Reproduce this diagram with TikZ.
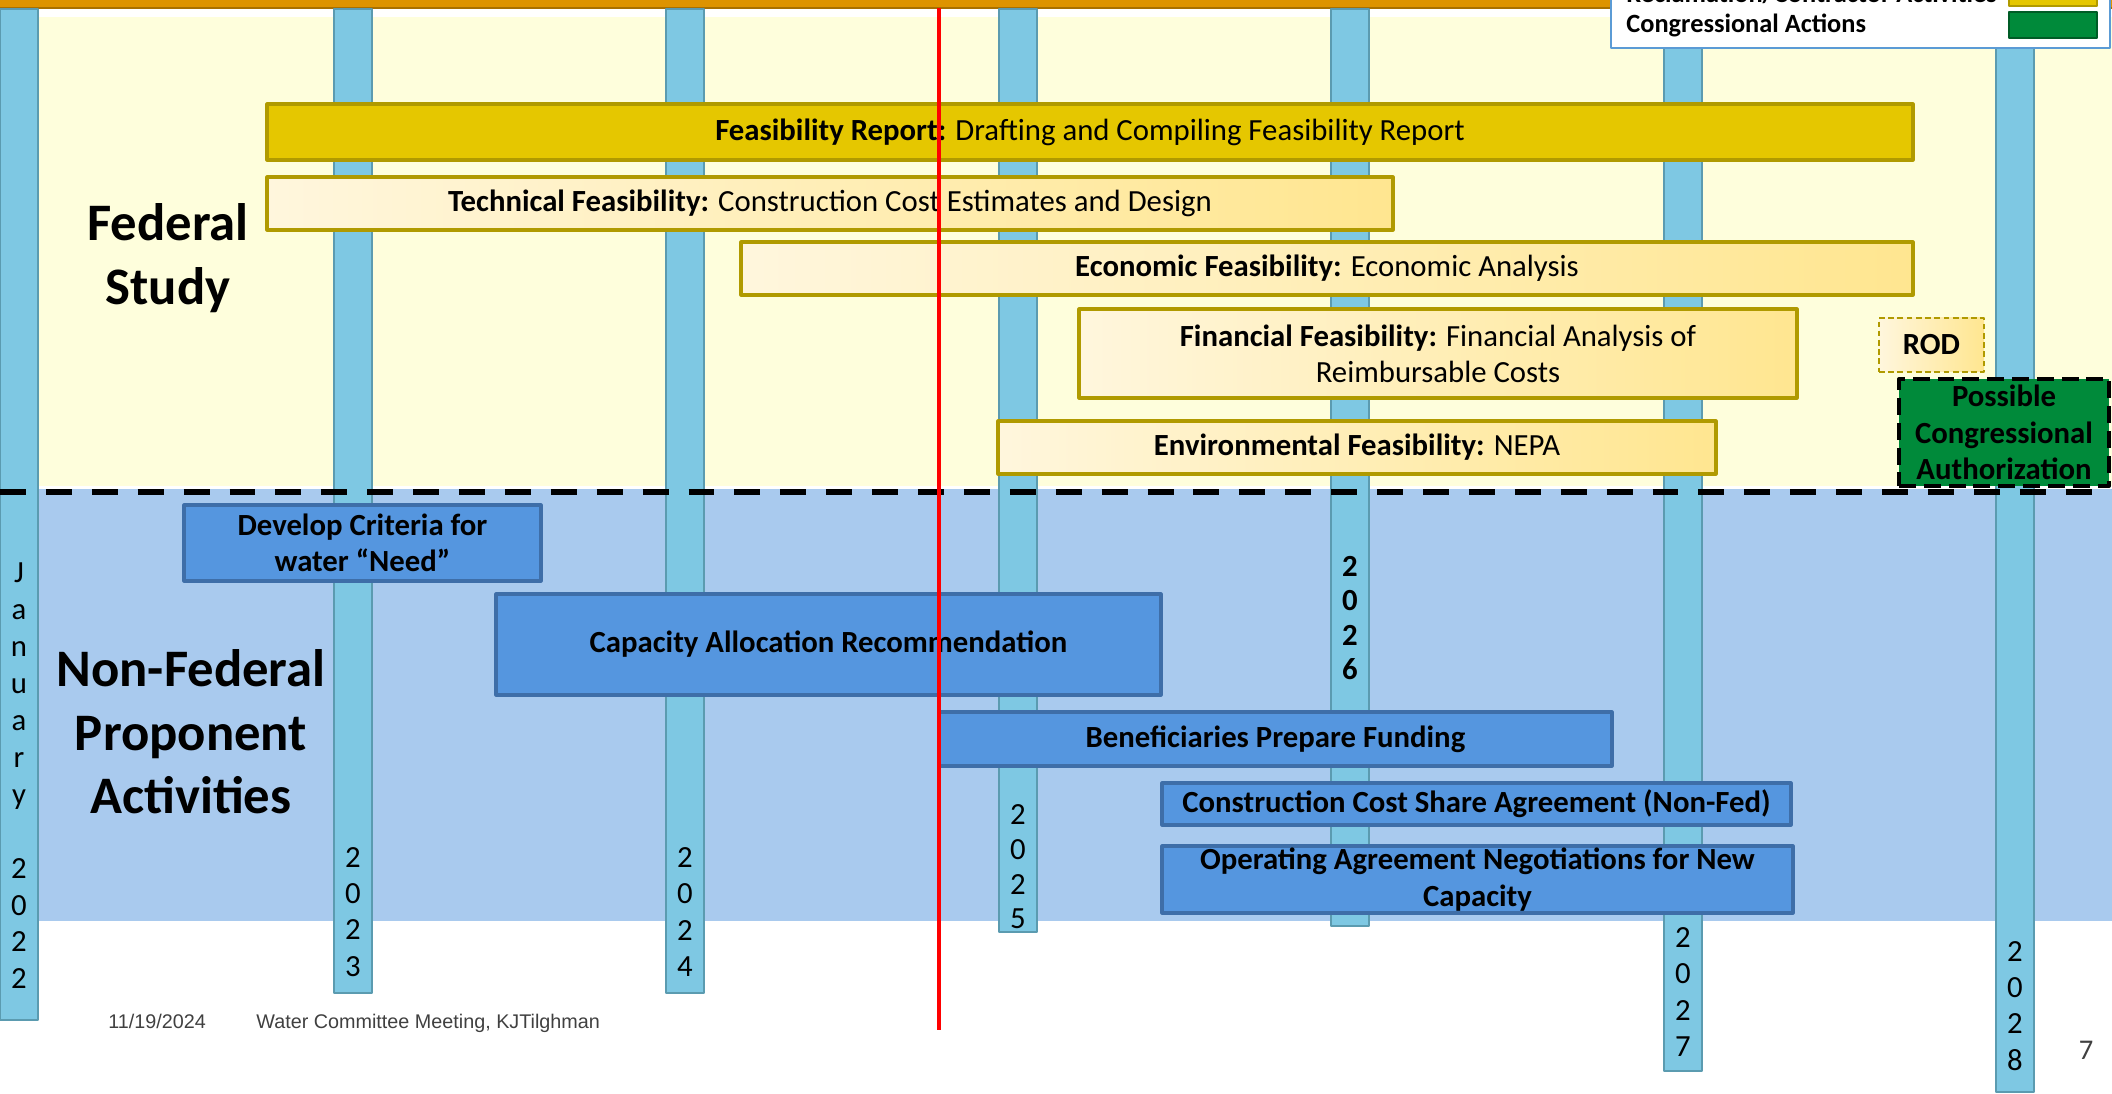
\documentclass[tikz,border=0pt]{standalone}
\usepackage{fontspec}
\setmainfont{Carlito}
\newfontfamily\footfont{Liberation Sans}
\usetikzlibrary{fit}
\definecolor{orangetop}{HTML}{DD9300}
\definecolor{orangeedge}{HTML}{A87000}
\definecolor{fedbg}{HTML}{FEFEDC}
\definecolor{nfbg}{HTML}{A9CAEE}
\definecolor{barblue}{HTML}{7EC8E3}
\definecolor{baredge}{HTML}{5B9BB0}
\definecolor{gold}{HTML}{E5C700}
\definecolor{goldedge}{HTML}{B09A00}
\definecolor{creamL}{HTML}{FFF6DD}
\definecolor{creamR}{HTML}{FFE690}
\definecolor{boxblue}{HTML}{5596DF}
\definecolor{boxedge}{HTML}{3E6EA8}
\definecolor{conggreen}{HTML}{008A3A}
\definecolor{greenedge}{HTML}{005C26}
\definecolor{legendedge}{HTML}{5B9BD5}
\definecolor{footgray}{HTML}{404040}
\tikzset{
  yearbar/.style={fill=barblue, draw=baredge, line width=1pt},
  yearlbl/.style={align=center, inner sep=0pt, font={\fontsize{14}{16.5}\selectfont}},
  sectionlbl/.style={align=center, inner sep=0pt, font={\fontsize{24}{29}\selectfont\bfseries}},
  boxtext/.style={align=center, inner sep=0pt, font={\fontsize{14}{16.5}\selectfont}},
  boldtext/.style={boxtext, font={\fontsize{14}{16.5}\selectfont\bfseries}},
  reportbox/.style={inner sep=0pt, fill=gold, draw=goldedge, line width=1.4pt},
  fedbox/.style={inner sep=0pt, left color=creamL, right color=creamR, draw=goldedge, line width=1.4pt},
  rodbox/.style={fedbox, line width=1.2pt, dash pattern=on 2.6pt off 1.6pt},
  congbox/.style={inner sep=0pt, fill=conggreen, draw=black, line width=1.8pt, dash pattern=on 7.7pt off 3.6pt},
  nfbox/.style={inner sep=0pt, fill=boxblue, draw=boxedge, line width=1.4pt},
  divider/.style={line width=2.7pt, dash pattern=on 11.8pt off 9.1pt},
  legendbox/.style={fill=white, draw=legendedge, line width=1.3pt},
  legtext/.style={anchor=base west, inner sep=0pt, font={\fontsize{12}{14}\selectfont\bfseries}},
  redline/.style={draw=red, line width=1.8pt},
  foot/.style={anchor=base west, inner sep=0pt, text=footgray, font={\footfont\fontsize{9}{11}\selectfont}}
}
\begin{document}
\begin{tikzpicture}[x=0.4553pt, y=-0.4553pt, line join=round]
  \useasboundingbox (0,0) rectangle (2112,1094);
  \clip (0,0) rectangle (2112,1094);
  % backgrounds
  \fill[fedbg] (0,17) rectangle (2112,486);
  \fill[nfbg] (0,489) rectangle (2112,921);
  \fill[orangetop] (0,0) rectangle (2112,7);
  \fill[orangeedge] (0,7) rectangle (2112,9);
  % year columns
  \foreach \xc/\bot in {19/1020, 353/993, 685/993, 1018/932, 1350/926, 1683/1071, 2015/1092}
    \draw[yearbar] (\xc-19,9) rectangle (\xc+19,\bot);
  \node[yearlbl, font={\fontsize{14}{16.8}\selectfont}] (jan) at (19,776) {J\\a\\n\\u\\a\\r\\y\\[16.8pt]2\\0\\2\\2};
  \node[yearlbl] (y2023) at (353,912) {2\\0\\2\\3};
  \node[yearlbl] (y2024) at (685,912) {2\\0\\2\\4};
  \node[yearlbl, font={\fontsize{14}{15.8}\selectfont}] (y2025) at (1018,867) {2\\0\\2\\5};
  \node[yearlbl, font={\fontsize{14}{15.6}\selectfont\bfseries}] (y2026) at (1350,618) {2\\0\\2\\6};
  \node[yearlbl] (y2027) at (1683,992) {2\\0\\2\\7};
  \node[yearlbl] (y2028) at (2015,1006) {2\\0\\2\\8};
  % section labels
  \node[sectionlbl] (fed) at (168,258) {Federal\\Study};
  \node[sectionlbl] (nonfed) at (191,732) {Non-Federal\\Proponent\\Activities};
  % federal study
  \node[reportbox, fit={(267,104) (1913,160)}] (report) {};
  \node[boxtext] (reporttxt) at (report) {\textbf{Feasibility Report:} Drafting and Compiling Feasibility Report};
  \node[fedbox, fit={(267,177) (1393,230)}] (technical) {};
  \node[boxtext] (technicaltxt) at (technical) {\textbf{Technical Feasibility:} Construction Cost Estimates and Design};
  \node[fedbox, fit={(741,242) (1913,295)}] (economic) {};
  \node[boxtext] (economictxt) at (economic) {\textbf{Economic Feasibility:} Economic Analysis};
  \node[fedbox, fit={(1079,309) (1797,398)}] (financial) {};
  \node[boxtext] (financialtxt) at (financial) {\textbf{Financial Feasibility:} Financial Analysis of\\Reimbursable Costs};
  \node[fedbox, fit={(998,421) (1716,474)}] (environmental) {};
  \node[boxtext] (environmentaltxt) at (environmental) {\textbf{Environmental Feasibility:} NEPA};
  \node[rodbox, fit={(1879,318) (1984,372)}] (rod) {};
  \node[boldtext] (rodtxt) at (rod) {ROD};
  \node[congbox, fit={(1899,379) (2109,486)}] (congress) {};
  \node[boldtext] (congresstxt) at (congress) {Possible\\Congressional\\Authorization};
  % non-federal
  \node[nfbox, fit={(184,505) (541,581)}] (criteria) {};
  \node[boldtext] (criteriatxt) at (criteria) {Develop Criteria for\\water “Need”};
  \node[nfbox, fit={(496,594) (1161,695)}] (capacity) {};
  \node[boldtext] (capacitytxt) at (capacity) {Capacity Allocation Recommendation};
  \node[nfbox, fit={(939,712) (1612,766)}] (funding) {};
  \node[boldtext] (fundingtxt) at (funding) {Beneficiaries Prepare Funding};
  \node[nfbox, fit={(1162,783) (1791,825)}] (costshare) {};
  \node[boldtext] (costsharetxt) at (costshare) {Construction Cost Share Agreement (Non-Fed)};
  \node[nfbox, fit={(1162,846) (1793,913)}] (operating) {};
  \node[boldtext] (operatingtxt) at (operating) {Operating Agreement Negotiations for New\\Capacity};
  \draw[divider] (0,492) -- (2112,492);
  % legend
  \draw[legendbox] (1611,-40) rectangle (2110,48);
  \node[legtext] (legrecl) at (1626,3) {Reclamation/Contractor Activities};
  \node[legtext] (legcong) at (1626,33) {Congressional Actions};
  \draw[fill=gold, draw=goldedge, line width=1pt] (2009,-30) rectangle (2097,6);
  \draw[fill=conggreen, draw=greenedge, line width=1pt] (2009,12) rectangle (2097,38);
  % today
  \draw[redline] (939,8) -- (939,1030);
  % footer
  \node[foot] (date) at (108,1029) {11/19/2024};
  \node[foot] (meeting) at (256,1029) {Water Committee Meeting, KJTilghman};
  \node[inner sep=0pt, text=footgray, font={\fontsize{13}{15}\selectfont}] (page) at (2086,1050) {7};
\end{tikzpicture}
\end{document}
